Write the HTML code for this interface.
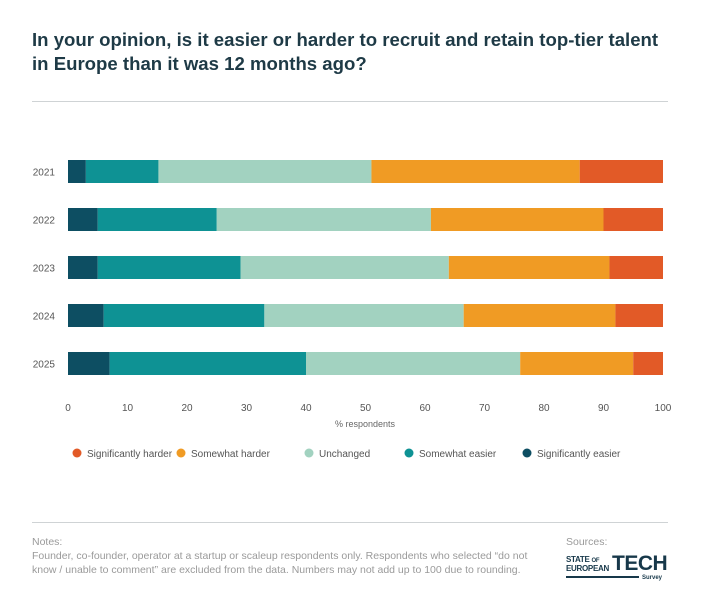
<!DOCTYPE html>
<html><head><meta charset="utf-8"><style>
body{margin:0;width:701px;height:616px;background:#fff;font-family:"Liberation Sans",sans-serif;position:relative;overflow:hidden}
.t{position:absolute;left:32px;top:28px;font-size:18.6px;font-weight:bold;color:#1e3a46;line-height:24px;width:660px}
.hr{position:absolute;left:32px;width:636px;height:1px;background:#cfd3d5}
.n{position:absolute;color:#9a9a9a;font-size:10.5px;line-height:14px}
</style></head><body>
<div class="t">In your opinion, is it easier or harder to recruit and retain top-tier talent<br>in Europe than it was 12 months ago?</div>
<div class="hr" style="top:101px"></div>
<svg id="c" width="701" height="480" style="position:absolute;left:0;top:0"></svg>
<div class="hr" style="top:522px"></div>
<div class="n" style="left:32px;top:535px;width:520px">Notes:<br>Founder, co-founder, operator at a startup or scaleup respondents only. Respondents who selected “do not know / unable to comment” are excluded from the data. Numbers may not add up to 100 due to rounding.</div>
<div class="n" style="left:566px;top:535px">Sources:</div>
<div style="position:absolute;left:566px;top:556px;width:96px;height:30px;color:#17384a;font-weight:bold">
<div style="position:absolute;left:0;top:0;font-size:8px;line-height:8px;letter-spacing:-0.3px">STATE <span style="font-size:6px">OF</span><br>EUROPEAN</div>
<div style="position:absolute;left:46px;top:-3px;font-size:21px;line-height:22px;letter-spacing:-0.5px">TECH</div>
<div style="position:absolute;left:0;top:20px;width:73px;height:2px;background:#17384a"></div>
<div style="position:absolute;left:76px;top:19px;font-size:6px">Survey</div>
</div>
<script>
const years=["2021","2022","2023","2024","2025"];
const sigEasier=[3,5,5,6,7];
const someEasier=[12.2,20,24,27,33];
const unchanged=[35.8,36,35,33.5,36];
const someHarder=[35,29,27,25.5,19];
const sigHarder=[14,10,9,8,5];
const ticks=[0,10,20,30,40,50,60,70,80,90,100];
const seriesNames=["Significantly easier","Somewhat easier","Unchanged","Somewhat harder","Significantly harder"];
const seriesColors=["#0d4e62","#0e9294","#a2d2c0","#f09b24","#e25a27"];
const series=[sigEasier,someEasier,unchanged,someHarder,sigHarder];
const svg=document.getElementById('c');const NS="http://www.w3.org/2000/svg";
const x=v=>68+v*5.95;const y=i=>160+i*48;const bh=23;
function mk(t,a){const e=document.createElementNS(NS,t);for(const k in a)e.setAttribute(k,a[k]);svg.appendChild(e);return e;}
years.forEach((yr,i)=>{
 const l=mk('text',{x:55,y:y(i)+bh/2+4,'text-anchor':'end','font-size':10,fill:'#555'});l.textContent=yr;
 
 
 let acc=0;
 series.forEach((s,j)=>{const r=mk('rect',{x:x(acc),y:y(i),width:x(acc+s[i])-x(acc),height:bh,fill:seriesColors[j]});
 
 
 acc+=s[i];});
});
ticks.forEach(t=>{const e=mk('text',{x:x(t),y:411,'text-anchor':'middle','font-size':10,fill:'#555'});e.textContent=t;
 
 });
const at=mk('text',{x:365,y:427,'text-anchor':'middle','font-size':9,fill:'#666'});at.textContent='% respondents';


const lx=[77,181,309,409,527];
[4,3,2,1,0].forEach((j,k)=>{
 const c=mk('circle',{cx:lx[k],cy:453,r:4.5,fill:seriesColors[j]});
 
 
 const t=mk('text',{x:lx[k]+10,y:457,'font-size':10,fill:'#555'});t.textContent=seriesNames[j];
 
 
});
</script>
</body></html>
